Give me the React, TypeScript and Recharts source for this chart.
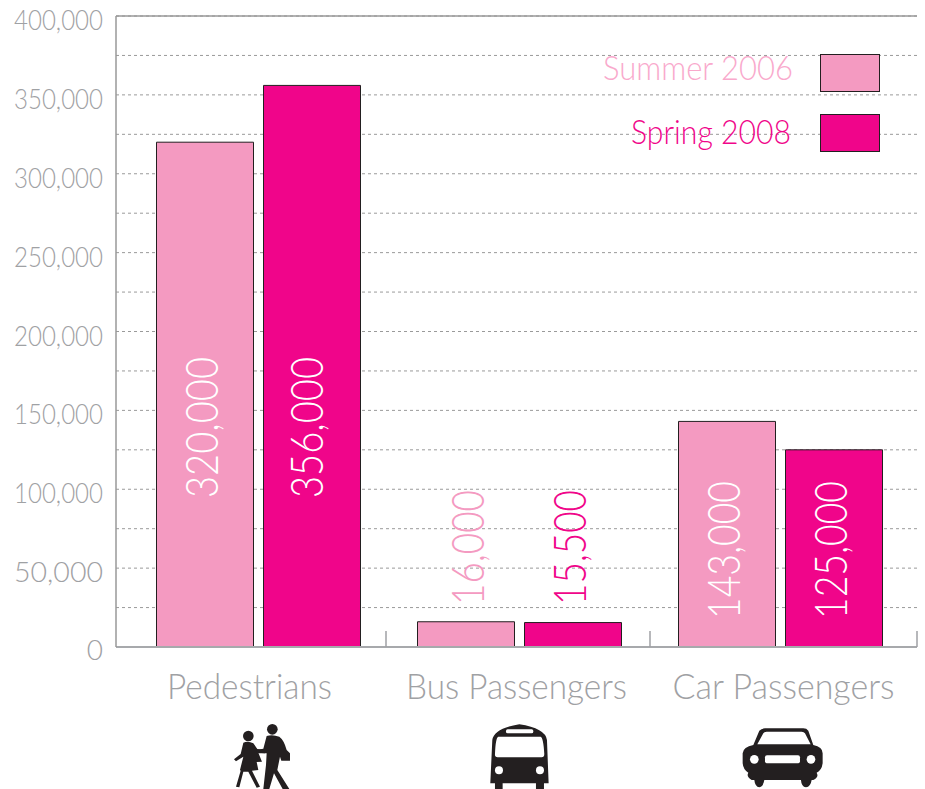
import React from "react";
import { BarChart, Bar, XAxis, YAxis, CartesianGrid, LabelList, Legend, ReferenceLine } from "recharts";

const categories = ["Pedestrians", "Bus Passengers", "Car Passengers"];
const summer2006 = [320000, 16000, 143000];
const spring2008 = [356000, 15500, 125000];
const yTicks = [0, 25000, 50000, 75000, 100000, 125000, 150000, 175000, 200000, 225000, 250000, 275000, 300000, 325000, 350000, 375000, 400000];
const seriesNames = ["Summer 2006", "Spring 2008"];

const data = categories.map((name, i) => ({ name, summer: summer2006[i], spring: spring2008[i] }));

const FONT = "Lato, 'Open Sans', sans-serif";
const GREY = "#9fa1a4";
const LIGHT = "#f49ac1";
const DARK = "#f0058a";
const INK = "#231f20";
const PLOT_BOTTOM = 647;
const labelStart = [149, 42, 28];
const labelLength = [141, 115, 138];

const YTick = ({ x, y, payload }: any) =>
  payload.value % 50000 === 0 ? (
    payload.value === 0 ? (
      <text x={x - 5} y={y + 13} textAnchor="end" fontFamily={FONT} fontWeight={300} fontSize={28} fill={GREY}>0</text>
    ) : (
      <text x={x - 5} y={y + 14} textAnchor="end" fontFamily={FONT} fontWeight={300} fontSize={28} fill={GREY} textLength={89} lengthAdjust="spacingAndGlyphs">
        {payload.value.toLocaleString("en-US")}
      </text>
    )
  ) : null;

const Pedestrians = () => (
  <g transform="translate(200,600) scale(0.3333)" fill={INK}>
    <circle cx={145} cy={408} r={16} />
    <circle cx={217} cy={388} r={16} />
    <path d="M130,428 Q145,422 160,430 L172,447 L195,450 L195,460 L175,458 L186,485 L170,486 L175,510 L156,512 L180,560 L170,563 L145,515 L130,515 L118,562 L108,560 L122,512 L120,510 L130,470 L108,484 L102,478 L122,462Z" />
    <path d="M200,408 Q217,402 238,410 Q252,420 260,450 L270,460 L270,482 L244,482 L240,470 L232,510 L268,567 L248,567 L222,520 L208,567 L190,567 L198,495 L200,460 L172,460 L168,450 L190,446Z" />
  </g>
);

const BusIcon = () => (
  <g transform="translate(200,600) scale(0.3333)">
    <path fill={INK} d="M871,550 L877,420 Q882,385 958,373 Q1036,385 1041,420 L1046,550 L1032,550 L1032,570 L1008,570 L1008,550 L908,550 L908,570 L885,570 L885,550Z" />
    <path fill="#fff" d="M895,410 L1022,410 Q1030,412 1033,462 Q1033,472 1025,472 L893,472 Q884,472 885,462 Q887,412 895,410Z" />
    <rect x={918} y={388} width={82} height={12} rx={5} fill="#fff" />
    <circle cx={897} cy={511} r={12} fill="#fff" />
    <circle cx={1020} cy={511} r={12} fill="#fff" />
  </g>
);

const CarIcon = () => (
  <g transform="translate(600,620) scale(0.3333)">
    <path fill={INK} d="M428,400 Q430,380 460,375 L478,332 Q485,325 495,325 L610,325 Q620,325 625,332 L640,375 Q668,380 668,400 L668,430 Q665,452 650,458 Q658,472 640,480 L635,480 Q632,500 618,502 Q604,500 603,480 L493,480 Q490,500 478,502 Q465,500 463,480 L455,480 Q438,470 445,458 Q430,450 428,430Z" />
    <path fill="#fff" d="M472,373 L490,340 Q492,335 500,335 L605,335 Q612,335 615,340 L632,373Z" />
    <circle cx={463} cy={418} r={13} fill="#fff" />
    <circle cx={633} cy={418} r={13} fill="#fff" />
    <rect x={495} y={406} width={105} height={24} rx={6} fill="#fff" />
  </g>
);

const icons = [Pedestrians, BusIcon, CarIcon];
const labelLengths = [165, 221, 222];
const tickReach = [136.5, 133.5, 133.5];

const CategoryTick = ({ x, payload, index }: any) => {
  const Icon = icons[index];
  return (
    <g>
      <line x1={x + tickReach[index]} x2={x + tickReach[index]} y1={631} y2={647} stroke={GREY} strokeWidth={1.5} />
      <text x={x} y={699} textAnchor="middle" fontFamily={FONT} fontWeight={300} fontSize={35} fill={GREY} textLength={labelLengths[index]} lengthAdjust="spacingAndGlyphs">
        {payload.value}
      </text>
      <Icon />
    </g>
  );
};

const valueLabel = (series: number, nudge: number[]) => (props: any) => {
  const { x, width, value, index } = props;
  const cx = x + width / 2 + nudge[index];
  const y = PLOT_BOTTOM - labelStart[index];
  const fill = index === 1 ? (series === 0 ? LIGHT : DARK) : "#fff";
  return (
    <text
      x={cx}
      y={y}
      transform={`rotate(-90 ${cx} ${y})`}
      textAnchor="start"
      dominantBaseline="central"
      fontFamily={FONT}
      fontWeight={300}
      fontSize={45}
      fill={fill}
      textLength={labelLength[index]}
      lengthAdjust="spacingAndGlyphs"
    >
      {Number(value).toLocaleString("en-US")}
    </text>
  );
};

const LegendBox = () => (
  <svg width={320} height={120} style={{ display: "block" }}>
    {seriesNames.map((n, i) => (
      <g key={n}>
        <text x={i === 0 ? 213 : 211} y={i === 0 ? 36 : 100} textAnchor="end" fontFamily={FONT} fontWeight={300} fontSize={33} fill={i === 0 ? "#f9a9cc" : DARK} textLength={i === 0 ? 190 : 160} lengthAdjust="spacingAndGlyphs">
          {n}
        </text>
        <rect x={240.5} y={i === 0 ? 10.5 : 70.5} width={59} height={37} fill={i === 0 ? LIGHT : DARK} stroke={INK} strokeWidth={1} />
      </g>
    ))}
  </svg>
);

export default function App() {
  return (
    <div style={{ position: "absolute", left: 0, top: 0, width: 925, height: 789, overflow: "hidden", background: "#fff" }}>
      <BarChart width={925} height={789} data={data} margin={{ top: 16, right: 8, bottom: 0, left: 16 }} barSize={97} barGap={10}>
        <CartesianGrid horizontal vertical={false} stroke="#9a9a9a" strokeDasharray="3 3" strokeWidth={1} />
        <XAxis xAxisId="bars" dataKey="name" hide height={0} padding={{ left: 11.5, right: 6.5 }} />
        <XAxis
          xAxisId="labels"
          dataKey="name"
          height={142}
          interval={0}
          tick={<CategoryTick />}
          tickLine={false}
          axisLine={{ stroke: "#a7a9ac", strokeWidth: 2 }}
        />
        <YAxis
          width={100}
          domain={[0, 400000]}
          ticks={yTicks}
          interval={0}
          tick={<YTick />}
          tickLine={false}
          axisLine={{ stroke: "#999", strokeWidth: 1.5 }}
        />
        <ReferenceLine xAxisId="bars" y={400000} stroke="#999" strokeWidth={1.5} />
        <Legend
          layout="horizontal"
          align="center"
          verticalAlign="middle"
          content={<LegendBox />}
          wrapperStyle={{ position: "absolute", left: 580, top: 44, width: 320, height: 120 }}
        />
        <Bar xAxisId="bars" dataKey="summer" name={seriesNames[0]} fill={LIGHT} stroke={INK} strokeWidth={1} isAnimationActive={false}>
          <LabelList dataKey="summer" content={valueLabel(0, [-4, 1, -4])} />
        </Bar>
        <Bar xAxisId="bars" dataKey="spring" name={seriesNames[1]} fill={DARK} stroke={INK} strokeWidth={1} isAnimationActive={false}>
          <LabelList dataKey="spring" content={valueLabel(1, [-6, -4, -4])} />
        </Bar>
      </BarChart>
    </div>
  );
}
